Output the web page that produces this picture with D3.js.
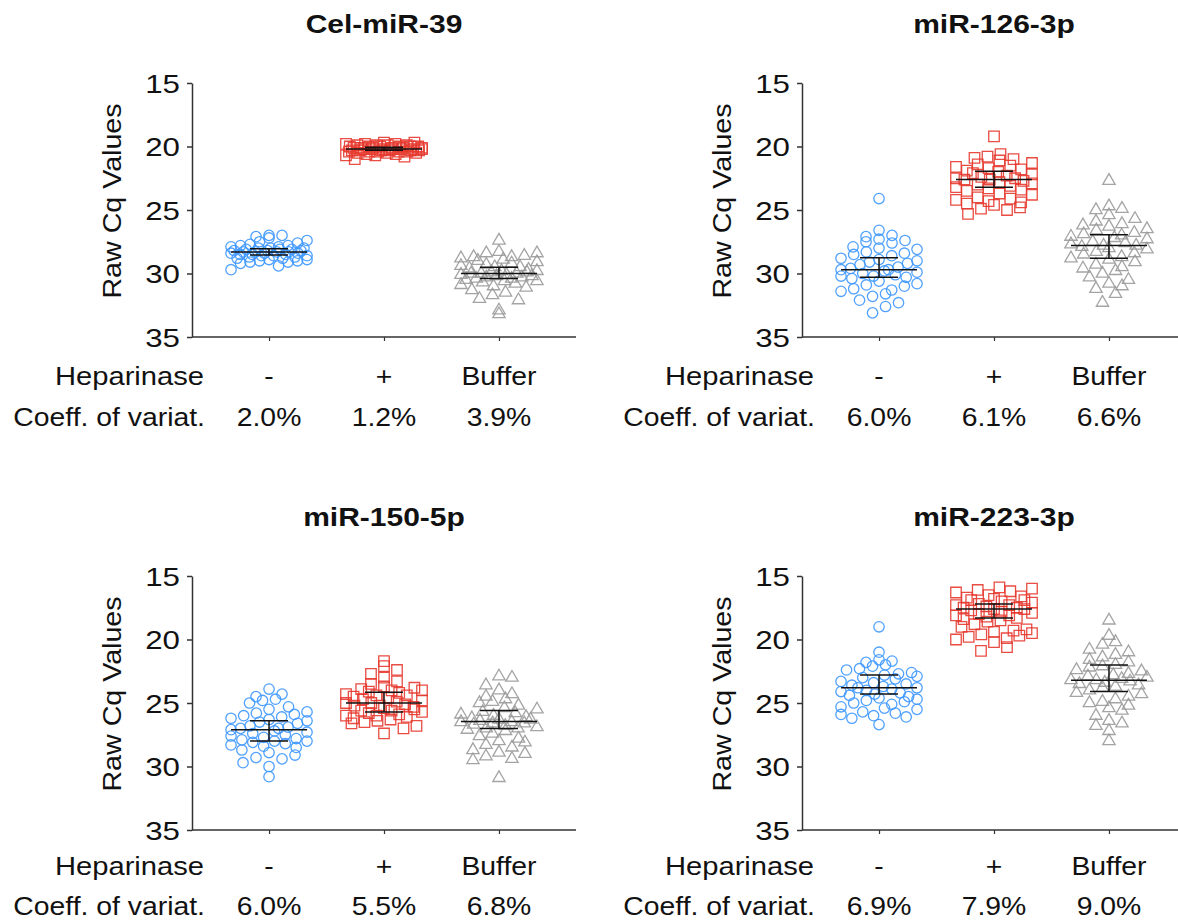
<!DOCTYPE html>
<html>
<head lang="en">
    <meta charset="UTF-8">
    <title>Raw Cq values by heparinase treatment</title>
    <script src="https://cdn.jsdelivr.net/npm/d3@7"></script>
    <style>
        body { margin: 0; background: #fff; }
        text { font-family: "Liberation Sans", Arial, sans-serif; fill: #111; }
    </style>
</head>
<body>
<script type="text/javascript">
    // chart data
    var titles = ["Cel-miR-39", "miR-126-3p", "miR-150-5p", "miR-223-3p"];
    var groups = ["-", "+", "Buffer"];
    var yTicks = [15, 20, 25, 30, 35];
    var cvLabels = [
        ["2.0%", "1.2%", "3.9%"],
        ["6.0%", "6.1%", "6.6%"],
        ["6.0%", "5.5%", "6.8%"],
        ["6.9%", "7.9%", "9.0%"]
    ];

    var celMinus = [27.0, 27.0, 27.1, 27.2, 27.4, 27.5, 27.6, 27.7, 27.8, 27.8, 27.9, 27.9, 28.0, 28.0, 28.0, 28.1,
        28.1, 28.1, 28.2, 28.2, 28.2, 28.3, 28.3, 28.3, 28.3, 28.4, 28.4, 28.4, 28.5, 28.5, 28.5, 28.6, 28.6, 28.6,
        28.7, 28.7, 28.8, 28.8, 28.9, 28.9, 29.0, 29.0, 29.1, 29.1, 29.2, 29.4, 29.7];
    var celPlus = [19.7, 19.7, 19.8, 19.8, 19.8, 19.9, 19.9, 19.9, 19.9, 20.0, 20.0, 20.0, 20.0, 20.0, 20.0, 20.1,
        20.1, 20.1, 20.1, 20.1, 20.1, 20.2, 20.2, 20.2, 20.2, 20.2, 20.2, 20.2, 20.3, 20.3, 20.3, 20.3, 20.3, 20.3,
        20.4, 20.4, 20.4, 20.4, 20.4, 20.5, 20.5, 20.5, 20.6, 20.6, 20.7, 20.7, 20.8, 21.0];
    var celBuffer = [27.4, 28.3, 28.4, 28.4, 28.6, 28.7, 28.7, 28.8, 28.9, 29.0, 29.1, 29.2, 29.3, 29.4, 29.5, 29.5,
        29.6, 29.7, 29.8, 29.8, 29.9, 29.9, 30.0, 30.0, 30.0, 30.1, 30.1, 30.2, 30.2, 30.3, 30.3, 30.4, 30.4, 30.5,
        30.6, 30.6, 30.7, 30.8, 30.9, 31.0, 31.1, 31.3, 31.5, 31.7, 32.0, 32.1, 32.9, 33.2];

    var m126Minus = [24.1, 26.6, 27.0, 27.1, 27.3, 27.4, 27.5, 27.6, 27.9, 28.0, 28.1, 28.3, 28.4, 28.5, 28.6, 28.8,
        28.9, 29.0, 29.1, 29.2, 29.3, 29.5, 29.6, 29.7, 29.7, 29.8, 29.9, 30.0, 30.1, 30.2, 30.2, 30.3, 30.4, 30.6,
        30.8, 30.9, 31.0, 31.2, 31.3, 31.4, 31.6, 31.8, 32.1, 32.3, 32.6, 33.1];
    var m126Plus = [19.2, 20.6, 20.8, 20.9, 21.0, 21.1, 21.3, 21.4, 21.5, 21.6, 21.7, 21.8, 21.9, 22.0, 22.1, 22.2,
        22.3, 22.4, 22.5, 22.5, 22.6, 22.6, 22.7, 22.8, 22.9, 23.0, 23.1, 23.2, 23.3, 23.4, 23.5, 23.7, 23.8, 24.0,
        24.1, 24.2, 24.3, 24.4, 24.5, 24.6, 24.8, 24.9, 25.0, 25.3];
    var m126Buffer = [22.7, 24.7, 24.9, 25.0, 25.4, 25.7, 25.9, 26.1, 26.2, 26.3, 26.5, 26.6, 26.8, 26.9, 27.0, 27.1,
        27.2, 27.3, 27.5, 27.6, 27.7, 27.8, 27.8, 27.9, 28.0, 28.1, 28.3, 28.4, 28.5, 28.7, 28.8, 28.9, 29.1, 29.3,
        29.5, 29.6, 29.8, 30.0, 30.3, 30.5, 30.8, 31.0, 31.2, 31.6, 32.3];

    var m150Minus = [23.9, 24.3, 24.5, 24.7, 24.8, 25.0, 25.3, 25.5, 25.7, 25.8, 25.9, 26.0, 26.1, 26.2, 26.3, 26.4,
        26.5, 26.6, 26.8, 26.9, 27.0, 27.0, 27.1, 27.2, 27.3, 27.4, 27.5, 27.6, 27.7, 27.8, 27.9, 28.0, 28.0, 28.1,
        28.2, 28.3, 28.4, 28.5, 28.7, 28.9, 29.1, 29.3, 29.4, 29.7, 30.0, 30.8];
    var m150Plus = [21.7, 22.1, 22.4, 22.7, 23.0, 23.3, 23.5, 23.7, 23.8, 23.9, 24.0, 24.0, 24.1, 24.2, 24.3, 24.4,
        24.4, 24.5, 24.6, 24.7, 24.8, 24.9, 25.0, 25.0, 25.1, 25.2, 25.2, 25.3, 25.4, 25.5, 25.6, 25.6, 25.7, 25.8,
        25.9, 26.0, 26.0, 26.1, 26.2, 26.3, 26.4, 26.5, 26.6, 26.8, 27.0, 27.4];
    var m150Buffer = [22.9, 23.0, 23.6, 24.0, 24.3, 24.5, 24.7, 24.9, 25.0, 25.2, 25.4, 25.5, 25.7, 25.8, 25.9, 26.0,
        26.1, 26.2, 26.3, 26.3, 26.4, 26.5, 26.5, 26.6, 26.6, 26.7, 26.8, 26.9, 27.0, 27.0, 27.1, 27.2, 27.4, 27.6,
        27.8, 28.0, 28.1, 28.3, 28.5, 28.7, 28.9, 29.0, 29.2, 29.4, 29.5, 30.9];

    var m223Minus = [19.0, 21.0, 21.6, 21.7, 21.8, 22.0, 22.1, 22.3, 22.4, 22.6, 22.7, 22.8, 22.9, 23.0, 23.1, 23.3,
        23.4, 23.5, 23.6, 23.7, 23.8, 23.8, 23.9, 24.0, 24.1, 24.2, 24.3, 24.4, 24.5, 24.6, 24.7, 24.8, 24.9, 25.0,
        25.1, 25.3, 25.4, 25.5, 25.7, 25.8, 25.9, 26.0, 26.1, 26.2, 26.7];
    var m223Plus = [15.9, 16.0, 16.1, 16.2, 16.3, 16.5, 16.6, 16.7, 16.8, 16.9, 16.9, 17.0, 17.1, 17.2, 17.3, 17.3,
        17.4, 17.5, 17.5, 17.6, 17.6, 17.7, 17.8, 17.9, 18.0, 18.1, 18.1, 18.2, 18.3, 18.4, 18.5, 18.6, 18.8, 19.0,
        19.2, 19.3, 19.4, 19.5, 19.6, 19.7, 19.8, 19.9, 20.0, 20.2, 20.6, 20.9];
    var m223Buffer = [18.5, 19.7, 20.2, 20.4, 20.8, 21.0, 21.2, 21.4, 21.6, 21.8, 22.0, 22.1, 22.2, 22.4, 22.5, 22.7,
        22.8, 22.9, 23.0, 23.1, 23.2, 23.2, 23.3, 23.4, 23.5, 23.6, 23.7, 23.8, 24.0, 24.2, 24.3, 24.5, 24.7, 24.9,
        25.0, 25.2, 25.4, 25.6, 26.0, 26.4, 26.6, 26.8, 27.2, 28.0];

    var panelValues = [
        [celMinus, celPlus, celBuffer],
        [m126Minus, m126Plus, m126Buffer],
        [m150Minus, m150Plus, m150Buffer],
        [m223Minus, m223Plus, m223Buffer]
    ];
    // centre line and error bar ends, as drawn in the figure
    var centres = [[28.3, 20.2, 30.0], [29.7, 22.6, 27.8], [27.1, 25.0, 26.45], [23.8, 17.6, 23.2]];
    var barLow = [[28.05, 20.05, 29.5], [28.75, 21.95, 26.95], [26.4, 24.15, 25.6], [22.8, 17.2, 22.0]];
    var barHigh = [[28.55, 20.3, 30.4], [30.3, 23.2, 28.8], [28.0, 25.7, 27.0], [24.3, 18.3, 24.1]];

    var colors = ["#3d97ff", "#e5392e", "#9a9a9a"];
    var symbols = [d3.symbolCircle, d3.symbolSquare, d3.symbolTriangle];
    var symbolSizes = [85, 110, 66];

    var svg = d3.select("body").append("svg")
        .attr("width", 1178)
        .attr("height", 921);

    var plotW = 384, plotH = 254, halfW = 38;
    var origins = [[192, 83], [802, 83], [192, 576], [802, 576]];

    function gcd(a, b) { return b ? gcd(b, a % b) : a; }

    // put points of similar value side by side, rows of rowH pixels
    function swarm(values, y, cx) {
        var rowH = 11, maxStep = 13;
        var pts = values.map(function (v) { return {v: v, py: y(v)}; })
            .sort(function (a, b) { return a.py - b.py; });
        var rows = d3.groups(pts, function (p) { return Math.floor((p.py - y.range()[0]) / rowH); });
        rows.forEach(function (r) {
            var row = r[1], n = row.length;
            var step = n > 1 ? Math.min(maxStep, 2 * halfW / (n - 1)) : 0;
            // spread sorted values over the slots with a fixed stride,
            // so a row does not turn into a slope or an arch
            var stride = Math.max(1, Math.round(n * 0.38));
            while (n > 1 && gcd(stride, n) !== 1) stride++;
            row.forEach(function (p, k) {
                var slot = (k * stride + Math.floor(n / 2)) % n;
                p.px = cx + (slot - (n - 1) / 2) * step;
            });
        });
        return pts;
    }

    function stretchText(sel, sx) {
        sel.attr("transform", function () {
            var t = d3.select(this);
            return "translate(" + (+t.attr("data-x")) + "," + (+t.attr("data-y")) + ") scale(" + sx + ",1)";
        });
    }

    titles.forEach(function (title, i) {
        var px = origins[i][0], py = origins[i][1];
        var x = d3.scalePoint().domain(groups).range([px, px + plotW]).padding(0.67);
        var y = d3.scaleLinear().domain([15, 35]).range([py, py + plotH]);
        var g = svg.append("g");

        // y axis
        var yAxis = g.append("g")
            .attr("transform", "translate(" + px + ",0)")
            .call(d3.axisLeft(y).tickValues(yTicks).tickSize(5).tickSizeOuter(0));
        yAxis.select(".domain").attr("stroke", "#333").attr("stroke-width", 1.5);
        yAxis.selectAll(".tick line").attr("stroke", "#333").attr("stroke-width", 1.5);
        yAxis.selectAll(".tick text")
            .attr("x", 0).attr("dy", null)
            .attr("data-x", -12).attr("data-y", 9)
            .style("font-size", "25px")
            .attr("fill", "#111");
        stretchText(yAxis.selectAll(".tick text"), 1.25);

        // x axis
        var xAxis = g.append("g")
            .attr("transform", "translate(0," + (py + plotH) + ")")
            .call(d3.axisBottom(x).tickSize(4).tickSizeOuter(0).tickFormat(""));
        xAxis.select(".domain").attr("stroke", "#333").attr("stroke-width", 1.5)
            .attr("d", "M" + px + ",0H" + (px + plotW));
        xAxis.selectAll(".tick line").attr("stroke", "#333").attr("stroke-width", 1.2);

        // title
        g.append("text")
            .attr("data-x", px + plotW / 2).attr("data-y", py - 50)
            .attr("text-anchor", "middle")
            .style("font-size", "25px").style("font-weight", "bold")
            .text(title)
            .call(stretchText, 1.2);

        // y label
        g.append("text")
            .attr("transform", "translate(" + (px - 71) + "," + (py + 118) + ") rotate(-90) scale(1.08,1)")
            .attr("text-anchor", "middle")
            .style("font-size", "26.5px")
            .text("Raw Cq Values");

        // points
        groups.forEach(function (grp, j) {
            var pts = swarm(panelValues[i][j], y, x(grp));
            g.append("g").selectAll("path")
                .data(pts)
                .enter()
                .append("path")
                .attr("d", d3.symbol().type(symbols[j]).size(symbolSizes[j]))
                .attr("transform", function (d) { return "translate(" + d.px + "," + d.py + ")"; })
                .attr("fill", "none")
                .attr("stroke", colors[j])
                .attr("stroke-width", 1.3)
                .attr("stroke-opacity", 0.9);
        });

        // centre lines with error bars
        groups.forEach(function (grp, j) {
            var cx = x(grp);
            var bars = g.append("g").attr("stroke", "#111").attr("stroke-width", 1.5);
            bars.append("line")
                .attr("x1", cx - halfW).attr("x2", cx + halfW)
                .attr("y1", y(centres[i][j])).attr("y2", y(centres[i][j]));
            bars.append("line")
                .attr("x1", cx).attr("x2", cx)
                .attr("y1", y(barLow[i][j])).attr("y2", y(barHigh[i][j]));
            [barLow[i][j], barHigh[i][j]].forEach(function (v) {
                bars.append("line")
                    .attr("x1", cx - halfW / 2).attr("x2", cx + halfW / 2)
                    .attr("y1", y(v)).attr("y2", y(v));
            });
        });

        // table under the axis
        var rowY = i < 2 ? [py + plotH + 48, py + plotH + 89] : [py + plotH + 45, py + plotH + 85];
        g.append("text")
            .attr("data-x", px + 12).attr("data-y", rowY[0])
            .attr("text-anchor", "end").style("font-size", "26.5px")
            .text("Heparinase").call(stretchText, 1.1);
        g.append("text")
            .attr("data-x", px + 13).attr("data-y", rowY[1])
            .attr("text-anchor", "end").style("font-size", "26.5px")
            .text("Coeff. of variat.").call(stretchText, 1.07);
        groups.forEach(function (grp, j) {
            g.append("text")
                .attr("data-x", x(grp)).attr("data-y", rowY[0])
                .attr("text-anchor", "middle").style("font-size", "26.5px")
                .text(grp).call(stretchText, 1.07);
            g.append("text")
                .attr("data-x", x(grp)).attr("data-y", rowY[1])
                .attr("text-anchor", "middle").style("font-size", "26.5px")
                .text(cvLabels[i][j]).call(stretchText, 1.07);
        });
    });
</script>
</body>
</html>
